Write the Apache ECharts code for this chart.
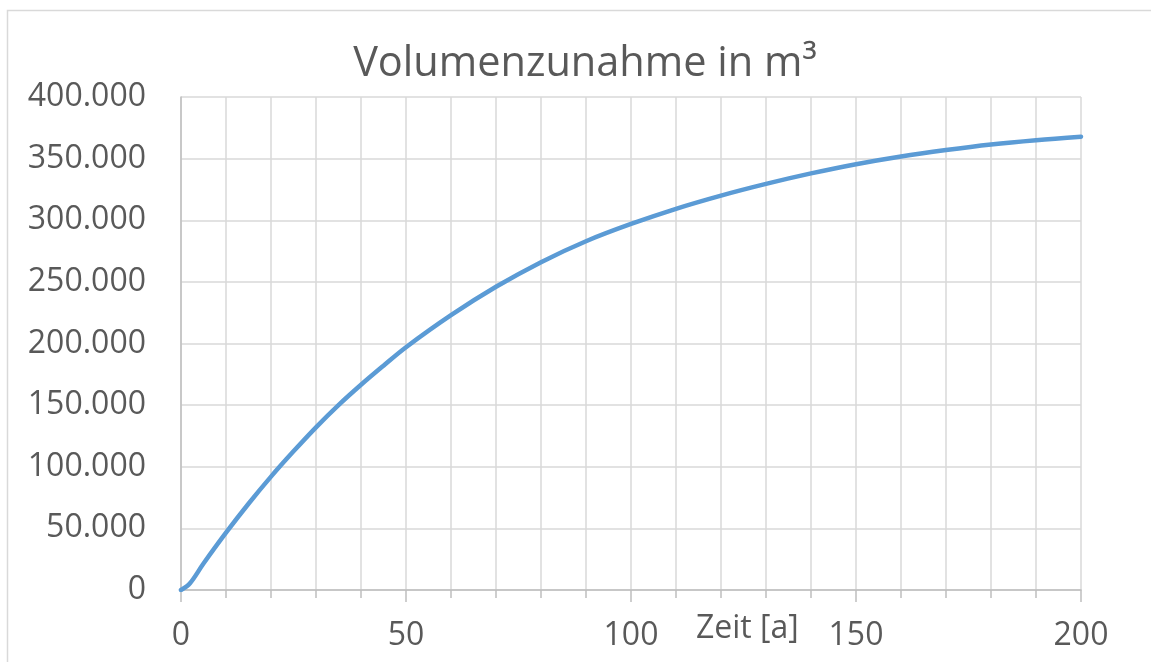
<!DOCTYPE html>
<html>
<head>
<meta charset="utf-8">
<script src="https://cdn.jsdelivr.net/npm/echarts@6/dist/echarts.min.js"></script>
<style>
html,body{margin:0;padding:0;background:#fff;}
#chart{width:1151px;height:662px;}
</style>
</head>
<body>
<div id="chart"></div>
<script>
// Data
const years  = [0, 2, 5, 10, 15, 20, 25, 30, 35, 40, 45, 50, 60, 70, 80, 90, 100, 110, 120, 130, 140, 150, 160, 170, 180, 190, 200];
const volume = [0, 5500, 21500, 46500, 70000, 92000, 112500, 132000, 150000, 166500, 182000, 197000, 223000, 246000, 266000, 283000, 297000, 309300, 320000, 329500, 338000, 345500, 351800, 357000, 361500, 365000, 367800];
const xMajorTicks = [0, 50, 100, 150, 200];
const titleText = 'Volumenzunahme in m³';
const xAxisTitle = 'Zeit [a]';

const FONT = '"Open Sans", "Noto Sans", sans-serif';
const TXT = '#595959';

function de(v){ return String(v).replace(/\B(?=(\d{3})+(?!\d))/g, '.'); }

const chart = echarts.init(document.getElementById('chart'), null, {renderer:'canvas'});
chart.setOption({
  animation: false,
  backgroundColor: '#ffffff',
  title: {
    text: titleText,
    left: 580, top: 38, textAlign: 'center',
    textStyle: {fontFamily: FONT, fontSize: 41.5, fontWeight: 'normal', color: TXT}
  },
  graphic: [
    {type: 'rect', shape: {x: 7.5, y: 10.5, width: 1160, height: 670},
     style: {fill: 'none', stroke: '#D9D9D9', lineWidth: 1.5}, silent: true, z: -10},
    {type: 'text', left: 696, top: 613,
     style: {text: xAxisTitle, font: '32px ' + FONT, fill: TXT}}
  ],
  grid: {left: 181, right: 70, top: 97, bottom: 72, containLabel: false},
  xAxis: [
    {
      type: 'value', min: 0, max: 200, interval: 10,
      axisLine: {show: true, lineStyle: {color: '#BFBFBF', width: 1.5}},
      axisTick: {show: true, length: 8, lineStyle: {color: '#BFBFBF', width: 1.5}},
      axisLabel: {show: false},
      splitLine: {show: true, lineStyle: {color: '#D9D9D9', width: 1.5}}
    },
    {
      type: 'value', min: 0, max: 200, interval: 50, position: 'bottom',
      axisLine: {show: false},
      axisTick: {show: true, length: 12, lineStyle: {color: '#BFBFBF', width: 1.5}},
      axisLabel: {show: true, margin: 30, fontFamily: FONT, fontSize: 32, color: TXT,
        formatter: v => xMajorTicks.includes(v) ? String(v) : ''},
      splitLine: {show: false}
    }
  ],
  yAxis: {
    type: 'value', min: 0, max: 400000, interval: 50000,
    axisLine: {show: true, lineStyle: {color: '#BFBFBF', width: 1.5}},
    axisTick: {show: false},
    axisLabel: {margin: 35, fontFamily: FONT, fontSize: 32, color: TXT, formatter: v => de(v)},
    splitLine: {show: true, lineStyle: {color: '#D9D9D9', width: 1.5}}
  },
  series: [{
    type: 'line',
    xAxisIndex: 0,
    data: years.map((y, i) => [y, volume[i]]),
    smooth: 0.35,
    showSymbol: false,
    lineStyle: {color: '#5B9BD5', width: 4.5, cap: 'round'},
    z: 5
  }]
});
</script>
</body>
</html>
